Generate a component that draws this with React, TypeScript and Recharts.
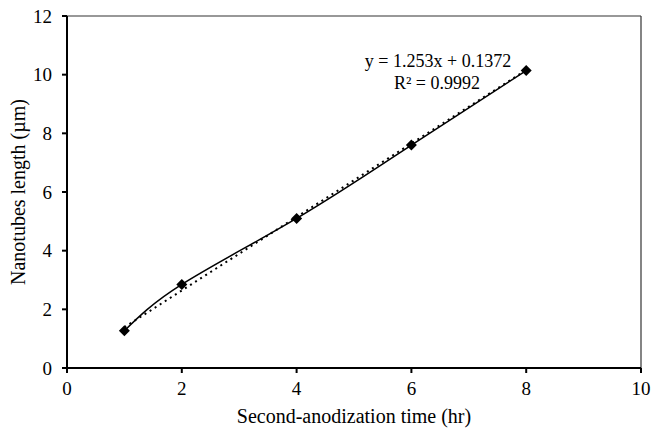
import React from "react";
import { ComposedChart, Line, XAxis, YAxis, ReferenceLine } from "recharts";

const times = [1, 2, 4, 6, 8];
const lengths = [1.27, 2.85, 5.1, 7.6, 10.14];
const trendTimes = [1, 8];
const trendLengths = [1.39, 10.16];
const xTicks = [0, 2, 4, 6, 8, 10];
const yTicks = [0, 2, 4, 6, 8, 10, 12];
const equationText = "y = 1.253x + 0.1372";
const r2Text = "R² = 0.9992";
const xTitle = "Second-anodization time (hr)";
const yTitle = "Nanotubes length (µm)";

const measured = times.map((x, i) => ({ x, y: lengths[i] }));
const trend = trendTimes.map((x, i) => ({ x, t: trendLengths[i] }));

const FONT = "'Liberation Serif', 'Times New Roman', serif";
const titleStyle = { fontSize: 20, fontFamily: FONT, fill: "#000" };
const eqStyle = { fontSize: 18, fontFamily: FONT, fill: "#000" };

const Diamond = (props: any) => {
  const { cx, cy, index } = props;
  if (cx == null || cy == null) return <g key={index} />;
  const r = 5.5;
  return (
    <polygon
      key={index}
      points={`${cx},${cy - r} ${cx + r},${cy} ${cx},${cy + r} ${cx - r},${cy}`}
      fill="#000"
    />
  );
};

export default function App() {
  return (
    <div style={{ position: "absolute", left: 0, top: 0, background: "#fff" }}>
      <ComposedChart
        width={652}
        height={437}
        margin={{ top: 16, right: 11, bottom: 39, left: 20 }}
      >
        <ReferenceLine y={12} stroke="#333" strokeWidth={1.2} />
        <ReferenceLine x={10} stroke="#333" strokeWidth={1.2} />
        <XAxis
          type="number"
          dataKey="x"
          domain={[0, 10]}
          ticks={xTicks}
          allowDataOverflow
          stroke="#000"
          strokeWidth={2}
          tickSize={5}
          height={30}
          tick={{ fill: "#000", fontSize: 19, fontFamily: FONT }}
          tickMargin={9}
        />
        <YAxis
          type="number"
          domain={[0, 12]}
          ticks={yTicks}
          stroke="#000"
          strokeWidth={2}
          tickSize={5}
          width={47}
          tick={{ fill: "#000", fontSize: 19, fontFamily: FONT }}
          tickMargin={10}
        />
        <Line
          data={trend}
          dataKey="t"
          type="linear"
          stroke="#000"
          strokeWidth={2}
          strokeDasharray="2 4"
          dot={false}
          isAnimationActive={false}
        />
        <Line
          data={measured}
          dataKey="y"
          type="natural"
          stroke="#000"
          strokeWidth={1.5}
          dot={Diamond}
          isAnimationActive={false}
        />
        <text x={438} y={67} textAnchor="middle" style={eqStyle}>
          {equationText}
        </text>
        <text x={437} y={89} textAnchor="middle" style={eqStyle}>
          {r2Text}
        </text>
        <text x={354} y={423} textAnchor="middle" style={titleStyle}>
          {xTitle}
        </text>
        <text
          x={0}
          y={0}
          textAnchor="middle"
          transform="translate(25,192) rotate(-90)"
          style={titleStyle}
        >
          {yTitle}
        </text>
      </ComposedChart>
    </div>
  );
}
